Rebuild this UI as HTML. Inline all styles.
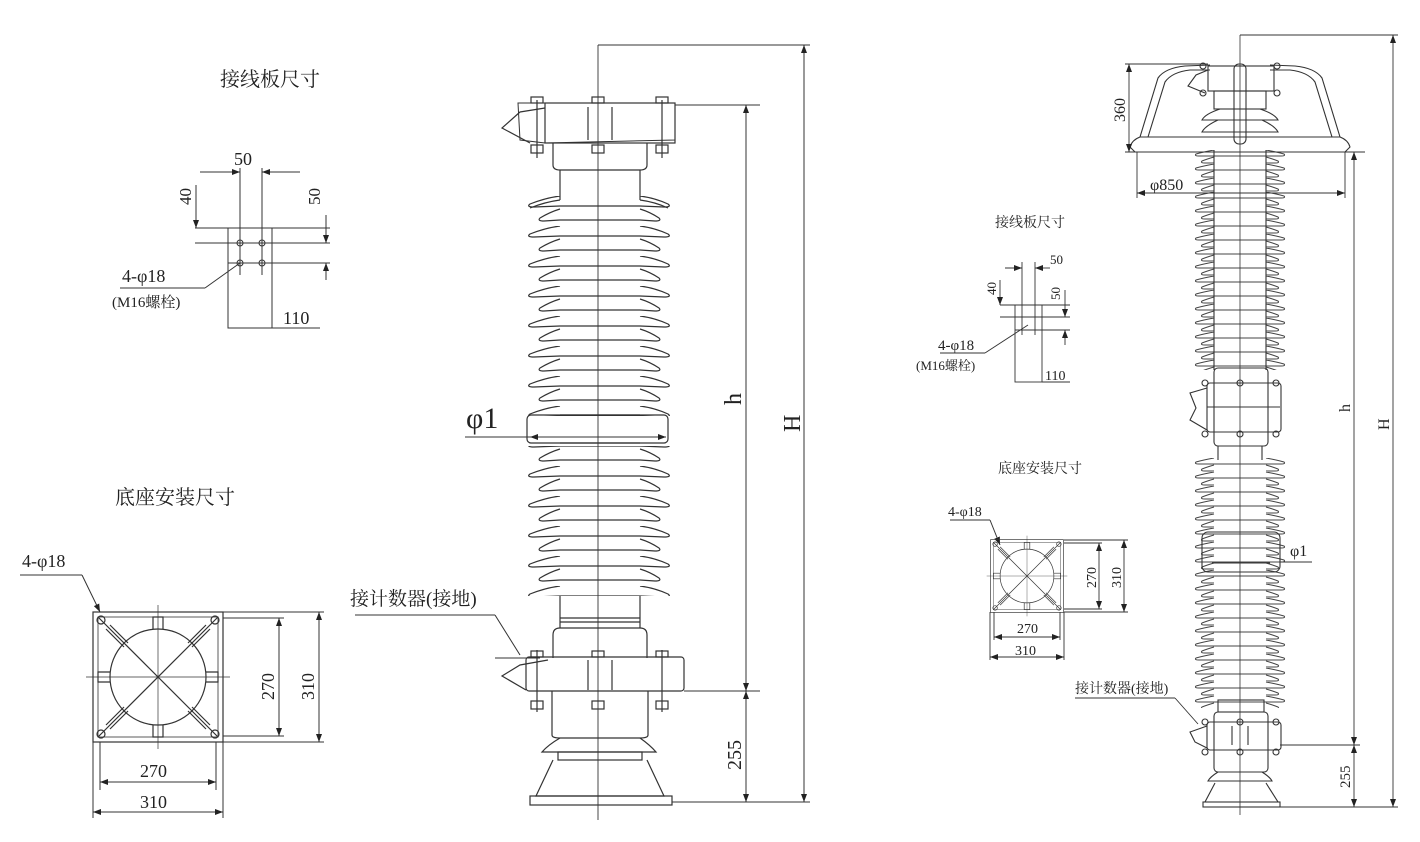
<!DOCTYPE html>
<html><head><meta charset="utf-8"><style>
html,body{margin:0;padding:0;background:#fff;}
svg{display:block;}
text{font-family:"Liberation Serif","Noto Serif CJK SC","Noto Sans CJK SC",serif;fill:#222;}
</style></head><body>
<svg width="1420" height="842" viewBox="0 0 1420 842" xmlns="http://www.w3.org/2000/svg">
<defs>
<pattern id="shL" patternUnits="userSpaceOnUse" x="0" y="196" width="1420" height="30">
 <g fill="none" stroke="#333" stroke-width="1.2">
  <path d="M560,0 Q545,2 530,8 Q526,11 534,11 L560,10"/>
  <path d="M640,0 Q655,2 668,8 Q672,11 664,11 L640,10"/>
  <path d="M560,13 Q550,16 540,22 Q537,25 544,25 L560,24"/>
  <path d="M640,13 Q650,16 659,22 Q662,25 655,25 L640,24"/>
  <line x1="560" y1="10" x2="640" y2="10"/><line x1="560" y1="24" x2="640" y2="24"/>
 </g>
</pattern>
<pattern id="shR" patternUnits="userSpaceOnUse" x="0" y="150" width="1420" height="14">
 <g fill="none" stroke="#444" stroke-width="1">
  <path d="M1214,0 Q1203,2 1196,4 Q1194,6 1199,6 L1214,6"/>
  <path d="M1266,0 Q1277,2 1284,4 Q1286,6 1281,6 L1266,6"/>
  <path d="M1214,7 Q1207,9 1202,11 Q1200,13 1205,13 L1214,13"/>
  <path d="M1266,7 Q1273,9 1278,11 Q1280,13 1275,13 L1266,13"/>
  <line x1="1214" y1="6" x2="1266" y2="6"/>
 </g>
</pattern>
<marker id="ar" markerWidth="8" markerHeight="6" refX="8" refY="3" orient="auto-start-reverse" markerUnits="userSpaceOnUse"><path d="M0,0 L8,3 L0,6 z" fill="#222"/></marker>
<g id="base" fill="none" stroke="#333" stroke-width="1.2">
 <rect x="-65" y="-65" width="130" height="130"/>
 <rect x="-60" y="-60" width="120" height="120" stroke-width="0.8"/>
 <circle r="48"/>
 <line x1="-60" y1="-60" x2="60" y2="60"/><line x1="60" y1="-60" x2="-60" y2="60"/>
 <line x1="-72" y1="0" x2="72" y2="0" stroke-width="0.7"/><line x1="0" y1="-72" x2="0" y2="72" stroke-width="0.7"/>
 <path d="M-5,-48 L-5,-60 L5,-60 L5,-48 M-5,48 L-5,60 L5,60 L5,48 M-48,-5 L-60,-5 L-60,5 L-48,5 M48,-5 L60,-5 L60,5 L48,5"/>
 <path d="M-34,-30 L-52,-48 M-30,-34 L-48,-52 M34,-30 L52,-48 M30,-34 L48,-52 M-34,30 L-52,48 M-30,34 L-48,52 M34,30 L52,48 M30,34 L48,52"/>
 <circle cx="-57" cy="-57" r="4"/><circle cx="57" cy="-57" r="4"/><circle cx="-57" cy="57" r="4"/><circle cx="57" cy="57" r="4"/>
</g>
</defs>

<!-- LEFT: terminal plate -->
<text x="220" y="86" font-size="20">接线板尺寸</text>
<g fill="none" stroke="#333" stroke-width="1">
 <rect x="228" y="228" width="44" height="100"/>
 <line x1="195" y1="228" x2="330" y2="228"/>
 <line x1="195" y1="243" x2="330" y2="243"/>
 <line x1="228" y1="263" x2="330" y2="263"/>
 <line x1="240" y1="168" x2="240" y2="275"/><line x1="262" y1="168" x2="262" y2="275"/>
 <circle cx="240" cy="243" r="3"/><circle cx="262" cy="243" r="3"/><circle cx="240" cy="263" r="3"/><circle cx="262" cy="263" r="3"/>
 <line x1="200" y1="172" x2="240" y2="172" marker-end="url(#ar)"/><line x1="300" y1="172" x2="262" y2="172" marker-end="url(#ar)"/>
 <line x1="196" y1="185" x2="196" y2="228" marker-end="url(#ar)"/>
 <line x1="326" y1="215" x2="326" y2="243" marker-end="url(#ar)"/><line x1="326" y1="280" x2="326" y2="263" marker-end="url(#ar)"/>
 <line x1="272" y1="328" x2="320" y2="328"/>
 <line x1="120" y1="288" x2="205" y2="288"/><line x1="205" y1="288" x2="240" y2="263"/>
</g>
<text x="234" y="165" font-size="18">50</text>
<text transform="translate(191,205) rotate(-90)" font-size="17">40</text>
<text transform="translate(320,205) rotate(-90)" font-size="17">50</text>
<text x="283" y="324" font-size="18">110</text>
<text x="122" y="282" font-size="18">4-φ18</text>
<text x="112" y="307" font-size="15">(M16螺栓)</text>

<!-- LEFT: base -->
<text x="115" y="504" font-size="20">底座安装尺寸</text>
<text x="22" y="567" font-size="18">4-φ18</text>
<line x1="20" y1="575" x2="82" y2="575" stroke="#333"/>
<line x1="82" y1="575" x2="100" y2="612" stroke="#333" marker-end="url(#ar)"/>
<use href="#base" transform="translate(158,677)"/>
<g fill="none" stroke="#333" stroke-width="1">
 <line x1="100" y1="742" x2="100" y2="790"/><line x1="216" y1="742" x2="216" y2="790"/>
 <line x1="93" y1="742" x2="93" y2="818"/><line x1="223" y1="742" x2="223" y2="818"/>
 <line x1="100" y1="782" x2="216" y2="782" marker-start="url(#ar)" marker-end="url(#ar)"/>
 <line x1="93" y1="812" x2="223" y2="812" marker-start="url(#ar)" marker-end="url(#ar)"/>
 <line x1="223" y1="618" x2="284" y2="618"/><line x1="223" y1="736" x2="284" y2="736"/>
 <line x1="223" y1="612" x2="324" y2="612"/><line x1="223" y1="742" x2="324" y2="742"/>
 <line x1="279" y1="618" x2="279" y2="736" marker-start="url(#ar)" marker-end="url(#ar)"/>
 <line x1="319" y1="612" x2="319" y2="742" marker-start="url(#ar)" marker-end="url(#ar)"/>
</g>
<text x="140" y="777" font-size="18">270</text>
<text x="140" y="808" font-size="18">310</text>
<text transform="translate(274,700) rotate(-90)" font-size="18">270</text>
<text transform="translate(314,700) rotate(-90)" font-size="18">310</text>

<!-- LEFT ARRESTER -->
<rect x="520" y="196" width="160" height="220" fill="url(#shL)"/>
<rect x="520" y="446" width="160" height="150" fill="url(#shL)"/>
<g fill="none" stroke="#333" stroke-width="1.2">
 <line x1="560" y1="170" x2="560" y2="200"/><line x1="640" y1="170" x2="640" y2="200"/>
 <path d="M560,200 Q545,202 530,208"/><path d="M640,200 Q655,202 668,208"/>
 <path d="M553,143 L553,165 Q553,170 560,170 L640,170 Q647,170 647,165 L647,143"/>
 <path d="M518,103 L675,103 L675,140 L545,143 L520,140 Z" stroke-width="1"/>
 <rect x="545" y="103" width="130" height="40"/>
 <path d="M545,108 L520,112 L502,128 L530,143"/>
 <line x1="588" y1="107" x2="588" y2="140"/><line x1="612" y1="107" x2="612" y2="140"/>
 <rect x="531" y="97" width="12" height="6"/><rect x="592" y="97" width="12" height="6"/><rect x="656" y="97" width="12" height="6"/>
 <rect x="531" y="145" width="12" height="8"/><rect x="592" y="145" width="12" height="8"/><rect x="656" y="145" width="12" height="8"/>
 <line x1="537" y1="100" x2="537" y2="158"/><line x1="662" y1="100" x2="662" y2="158"/>
 <!-- middle ring -->
 <rect x="527" y="415" width="141" height="28" rx="4"/>
 <line x1="560" y1="415" x2="640" y2="415"/><line x1="560" y1="443" x2="640" y2="443"/>
 <!-- bottom part -->
 <line x1="560" y1="596" x2="560" y2="628"/><line x1="640" y1="596" x2="640" y2="628"/>
 <line x1="560" y1="618" x2="640" y2="618"/><line x1="560" y1="622" x2="640" y2="622"/>
 <path d="M553,658 L553,635 Q553,628 560,628 L640,628 Q647,628 647,635 L647,658"/>
 <rect x="526" y="657" width="158" height="34" rx="3"/>
 <path d="M548,660 L520,665 L502,676 L526,690"/>
 <line x1="588" y1="660" x2="588" y2="690"/><line x1="612" y1="660" x2="612" y2="690"/>
 <rect x="531" y="651" width="12" height="6"/><rect x="592" y="651" width="12" height="6"/><rect x="656" y="651" width="12" height="6"/>
 <rect x="531" y="701" width="12" height="8"/><rect x="592" y="701" width="12" height="8"/><rect x="656" y="701" width="12" height="8"/>
 <line x1="537" y1="650" x2="537" y2="712"/><line x1="662" y1="650" x2="662" y2="712"/>
 <path d="M552,691 L552,735 Q552,738 560,738 L640,738 Q648,738 648,735 L648,691"/>
 <path d="M560,738 Q548,745 542,752 L656,752 Q650,745 640,738"/>
 <rect x="558" y="752" width="84" height="8"/>
 <path d="M553,760 L536,796 L664,796 L647,760"/>
 <rect x="530" y="796" width="142" height="9"/>
 <line x1="598" y1="45" x2="598" y2="820" stroke-width="0.9"/>
</g>
<!-- left dims -->
<g fill="none" stroke="#333" stroke-width="1">
 <line x1="598" y1="45" x2="810" y2="45"/>
 <line x1="675" y1="105" x2="760" y2="105"/>
 <line x1="684" y1="691" x2="760" y2="691"/>
 <line x1="672" y1="802" x2="810" y2="802"/>
 <line x1="746" y1="105" x2="746" y2="691" marker-start="url(#ar)" marker-end="url(#ar)"/>
 <line x1="746" y1="691" x2="746" y2="802" marker-start="url(#ar)" marker-end="url(#ar)"/>
 <line x1="804" y1="45" x2="804" y2="802" marker-start="url(#ar)" marker-end="url(#ar)"/>
 <line x1="530" y1="437" x2="666" y2="437" marker-start="url(#ar)" marker-end="url(#ar)"/>
 <line x1="465" y1="437" x2="530" y2="437"/>
 <line x1="355" y1="615" x2="495" y2="615"/><line x1="495" y1="615" x2="520" y2="655"/>
 <line x1="495" y1="658" x2="540" y2="658"/>
</g>
<text x="466" y="428" font-size="30">φ1</text>
<text transform="translate(741,405) rotate(-90)" font-size="24">h</text>
<text transform="translate(800,432) rotate(-90)" font-size="24">H</text>
<text transform="translate(741,770) rotate(-90)" font-size="20">255</text>
<text x="350" y="605" font-size="19">接计数器(接地)</text>

<!-- RIGHT: terminal plate -->
<text x="995" y="227" font-size="14">接线板尺寸</text>
<g fill="none" stroke="#333" stroke-width="0.9">
 <rect x="1015" y="305" width="27" height="77"/>
 <line x1="1000" y1="305" x2="1070" y2="305"/><line x1="1000" y1="317" x2="1070" y2="317"/><line x1="1015" y1="330" x2="1070" y2="330"/>
 <line x1="1022" y1="262" x2="1022" y2="335"/><line x1="1035" y1="262" x2="1035" y2="335"/>
 <line x1="1005" y1="268" x2="1022" y2="268" marker-end="url(#ar)"/><line x1="1050" y1="268" x2="1035" y2="268" marker-end="url(#ar)"/>
 <line x1="1000" y1="280" x2="1000" y2="305" marker-end="url(#ar)"/>
 <line x1="1065" y1="290" x2="1065" y2="317" marker-end="url(#ar)"/><line x1="1065" y1="345" x2="1065" y2="330" marker-end="url(#ar)"/>
 <line x1="1042" y1="382" x2="1070" y2="382"/>
 <line x1="940" y1="353" x2="985" y2="353"/><line x1="985" y1="353" x2="1028" y2="325"/>
</g>
<text x="1050" y="264" font-size="13">50</text>
<text transform="translate(996,295) rotate(-90)" font-size="13">40</text>
<text transform="translate(1060,300) rotate(-90)" font-size="13">50</text>
<text x="1045" y="380" font-size="14">110</text>
<text x="938" y="350" font-size="15">4-φ18</text>
<text x="916" y="370" font-size="13">(M16螺栓)</text>

<!-- RIGHT: base -->
<text x="998" y="473" font-size="14">底座安装尺寸</text>
<text x="948" y="516" font-size="14">4-φ18</text>
<line x1="950" y1="520" x2="990" y2="520" stroke="#333"/>
<line x1="990" y1="520" x2="1000" y2="545" stroke="#333" marker-end="url(#ar)"/>
<use href="#base" transform="translate(1027,576) scale(0.56)"/>
<g fill="none" stroke="#333" stroke-width="0.9">
 <line x1="990" y1="612" x2="990" y2="660"/><line x1="1064" y1="612" x2="1064" y2="660"/>
 <line x1="994" y1="612" x2="994" y2="640"/><line x1="1060" y1="612" x2="1060" y2="640"/>
 <line x1="994" y1="637" x2="1060" y2="637" marker-start="url(#ar)" marker-end="url(#ar)"/>
 <line x1="990" y1="657" x2="1064" y2="657" marker-start="url(#ar)" marker-end="url(#ar)"/>
 <line x1="1064" y1="540" x2="1128" y2="540"/><line x1="1064" y1="612" x2="1128" y2="612"/>
 <line x1="1064" y1="543" x2="1102" y2="543"/><line x1="1064" y1="609" x2="1102" y2="609"/>
 <line x1="1099" y1="543" x2="1099" y2="609" marker-start="url(#ar)" marker-end="url(#ar)"/>
 <line x1="1124" y1="540" x2="1124" y2="612" marker-start="url(#ar)" marker-end="url(#ar)"/>
</g>
<text x="1017" y="633" font-size="14">270</text>
<text x="1015" y="655" font-size="14">310</text>
<text transform="translate(1096,588) rotate(-90)" font-size="14">270</text>
<text transform="translate(1121,588) rotate(-90)" font-size="14">310</text>

<!-- RIGHT ARRESTER -->
<rect x="1190" y="150" width="100" height="220" fill="url(#shR)"/>
<rect x="1190" y="458" width="100" height="70" fill="url(#shR)"/>
<rect x="1190" y="528" width="100" height="180" fill="url(#shR)"/>
<g fill="none" stroke="#333" stroke-width="1.1">
 <!-- grading ring top -->
 <path d="M1130,147 Q1132,140 1140,137 L1340,137 Q1348,140 1350,147 L1345,152 L1135,152 Z"/>
 <path d="M1140,137 L1158,78 Q1165,68 1185,66 L1210,65"/>
 <path d="M1148,137 L1165,82 Q1172,72 1190,70 L1210,70"/>
 <path d="M1340,137 L1322,78 Q1315,68 1295,66 L1270,65"/>
 <path d="M1332,137 L1315,82 Q1308,72 1290,70 L1270,70"/>
 <rect x="1208" y="66" width="66" height="25"/>
 <path d="M1208,70 L1196,75 L1188,86 L1205,93"/>
 <rect x="1214" y="91" width="52" height="18"/>
 <path d="M1220,109 Q1205,114 1202,120 L1278,120 Q1275,114 1260,109"/>
 <path d="M1218,120 Q1205,126 1202,132 L1278,132 Q1275,126 1262,120"/>
 <rect x="1234" y="64" width="12" height="80" rx="5"/>
 <circle cx="1203" cy="66" r="3"/><circle cx="1277" cy="66" r="3"/><circle cx="1203" cy="93" r="3"/><circle cx="1277" cy="93" r="3"/>
 <line x1="1214" y1="150" x2="1214" y2="370"/><line x1="1266" y1="150" x2="1266" y2="370"/>
 <!-- middle flange -->
 <rect x="1214" y="368" width="54" height="78" rx="4"/>
 <rect x="1207" y="383" width="74" height="49" rx="3"/>
 <path d="M1207,388 L1190,393 L1196,408 L1190,420 L1207,430"/>
 <line x1="1207" y1="407" x2="1280" y2="407"/>
 <circle cx="1205" cy="383" r="3"/><circle cx="1240" cy="383" r="3"/><circle cx="1276" cy="383" r="3"/>
 <circle cx="1205" cy="434" r="3"/><circle cx="1240" cy="434" r="3"/><circle cx="1276" cy="434" r="3"/>
 <line x1="1218" y1="446" x2="1218" y2="460"/><line x1="1262" y1="446" x2="1262" y2="460"/>
 <!-- ring -->
 <rect x="1202" y="532" width="78" height="40" rx="6"/>
 <line x1="1212" y1="563" x2="1270" y2="563"/>
 <!-- bottom -->
 <rect x="1218" y="700" width="46" height="12"/>
 <rect x="1214" y="712" width="54" height="60" rx="4"/>
 <rect x="1207" y="722" width="74" height="28" rx="3"/>
 <path d="M1207,726 L1190,732 L1195,742 L1207,748"/>
 <line x1="1232" y1="726" x2="1232" y2="745"/><line x1="1248" y1="726" x2="1248" y2="745"/>
 <circle cx="1205" cy="722" r="3"/><circle cx="1240" cy="722" r="3"/><circle cx="1276" cy="722" r="3"/>
 <circle cx="1205" cy="752" r="3"/><circle cx="1240" cy="752" r="3"/><circle cx="1276" cy="752" r="3"/>
 <path d="M1218,772 Q1210,777 1208,781 L1272,781 Q1270,777 1262,772"/>
 <path d="M1215,783 L1205,802 L1278,802 L1266,783"/>
 <rect x="1203" y="802" width="77" height="5"/>
 <line x1="1240" y1="35" x2="1240" y2="815" stroke-width="0.8"/>
</g>
<!-- right dims -->
<g fill="none" stroke="#333" stroke-width="0.9">
 <line x1="1240" y1="35" x2="1398" y2="35"/>
 <line x1="1125" y1="64" x2="1208" y2="64"/><line x1="1125" y1="152" x2="1365" y2="152"/>
 <line x1="1129" y1="64" x2="1129" y2="152" marker-start="url(#ar)" marker-end="url(#ar)"/>
 <line x1="1137" y1="152" x2="1137" y2="198"/><line x1="1345" y1="152" x2="1345" y2="198"/>
 <line x1="1137" y1="193" x2="1345" y2="193" marker-start="url(#ar)" marker-end="url(#ar)"/>
 <line x1="1280" y1="745" x2="1360" y2="745"/>
 <line x1="1280" y1="807" x2="1398" y2="807"/>
 <line x1="1354" y1="152" x2="1354" y2="745" marker-start="url(#ar)" marker-end="url(#ar)"/>
 <line x1="1354" y1="745" x2="1354" y2="807" marker-start="url(#ar)" marker-end="url(#ar)"/>
 <line x1="1393" y1="35" x2="1393" y2="807" marker-start="url(#ar)" marker-end="url(#ar)"/>
 <line x1="1280" y1="562" x2="1312" y2="562"/>
 <line x1="1075" y1="698" x2="1175" y2="698"/><line x1="1175" y1="698" x2="1198" y2="724"/>
</g>
<text transform="translate(1125,122) rotate(-90)" font-size="16">360</text>
<text x="1150" y="190" font-size="16">φ850</text>
<text x="1290" y="556" font-size="16">φ1</text>
<text transform="translate(1350,412) rotate(-90)" font-size="16">h</text>
<text transform="translate(1389,430) rotate(-90)" font-size="16">H</text>
<text transform="translate(1350,788) rotate(-90)" font-size="15">255</text>
<text x="1075" y="693" font-size="14">接计数器(接地)</text>
</svg>
</body></html>
